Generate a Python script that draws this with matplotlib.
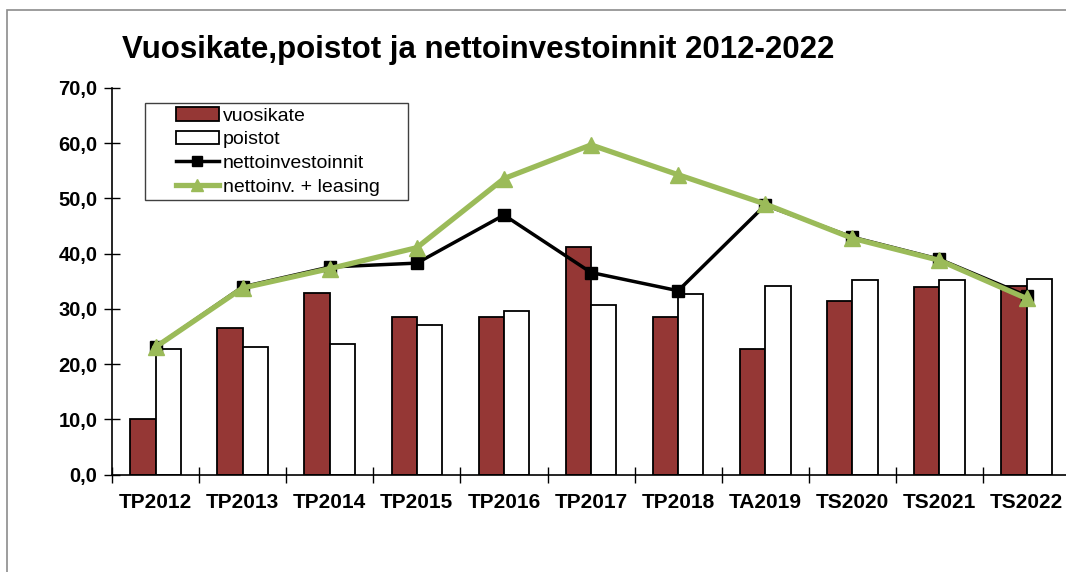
import matplotlib
matplotlib.use("Agg")
import matplotlib.pyplot as plt
import numpy as np
from matplotlib.patches import Rectangle
from matplotlib.ticker import FuncFormatter, MultipleLocator

categories = ["TP2012", "TP2013", "TP2014", "TP2015", "TP2016", "TP2017",
              "TP2018", "TA2019", "TS2020", "TS2021", "TS2022"]
vuosikate = [10.0, 26.5, 32.9, 28.6, 28.6, 41.2, 28.5, 22.7, 31.4, 34.0, 34.2]
poistot = [22.7, 23.2, 23.6, 27.1, 29.6, 30.7, 32.7, 34.2, 35.2, 35.2, 35.4]
nettoinvestoinnit = [23.1, 34.0, 37.6, 38.3, 47.0, 36.6, 33.3, 48.8, 43.0, 39.0, 32.4]
nettoinv_leasing = [23.1, 33.8, 37.3, 41.1, 53.6, 59.7, 54.3, 49.0, 42.8, 38.8, 31.9]

plt.rcParams['font.family'] = ['Liberation Sans', 'DejaVu Sans']

W, H = 1066, 572
fig = plt.figure(figsize=(W / 100, H / 100), dpi=100)
fig.patch.set_facecolor("white")

# outer chart border
fig.add_artist(Rectangle((7 / W, -0.1), 1.2, (H - 10) / H + 0.1, transform=fig.transFigure,
                         fill=False, edgecolor="#8c8c8c", linewidth=1.2))

ax_left = 112 / W
ax_bottom = (H - 474.7) / H
ax_h = (474.7 - 88.0) / H
ax_w = 11 * 87.1 / W
ax = fig.add_axes([ax_left, ax_bottom, ax_w, ax_h])

x = np.arange(len(categories))
bw = 0.29
b1 = ax.bar(x - bw / 2, vuosikate, width=bw, color="#953735", edgecolor="black",
            linewidth=1.3, label="vuosikate", zorder=2)
b2 = ax.bar(x + bw / 2, poistot, width=bw, color="white", edgecolor="black",
            linewidth=1.3, label="poistot", zorder=2)
l1, = ax.plot(x, nettoinvestoinnit, color="black", linewidth=2.5, marker="s",
              markersize=8, label="nettoinvestoinnit", zorder=3)
l2, = ax.plot(x, nettoinv_leasing, color="#9BBB59", linewidth=3.8, marker="^",
              markersize=11, label="nettoinv. + leasing", zorder=4)

ax.set_xlim(-0.5, 10.5)
ax.set_ylim(0, 70)
ax.yaxis.set_major_locator(MultipleLocator(10))
ax.yaxis.set_major_formatter(FuncFormatter(lambda v, p: f"{v:.1f}".replace(".", ",")))
ax.set_xticks(x)
ax.set_xticklabels(categories)
ax.set_xticks(np.arange(-0.5, 11, 1), minor=True)
ax.tick_params(axis="x", which="major", length=0, pad=13)
ax.tick_params(axis="x", which="minor", direction="inout", length=12, width=1)
ax.tick_params(axis="y", which="major", direction="inout", length=11, width=1, pad=5)
for lbl in ax.get_xticklabels():
    lbl.set_fontweight("bold")
    lbl.set_fontsize(15)
for lbl in ax.get_yticklabels():
    lbl.set_fontweight("bold")
    lbl.set_fontsize(14.5)

for s in ["top", "right"]:
    ax.spines[s].set_visible(False)
for s in ["left", "bottom"]:
    ax.spines[s].set_linewidth(1.2)

fig.text(122 / W, 1 - 50 / H, "Vuosikate,poistot ja nettoinvestoinnit 2012-2022",
         fontsize=22.5, fontweight="bold", va="center", ha="left")

# legend frame drawn separately (asymmetric padding in reference)
fig.add_artist(Rectangle((145 / W, 1 - 200 / H), (408 - 145) / W, (200 - 103) / H,
                         transform=fig.transFigure, fill=True, facecolor="white",
                         edgecolor="#404040", linewidth=1.0, zorder=5))
leg = fig.legend([b1, b2, l1, l2],
                 ["vuosikate", "poistot", "nettoinvestoinnit", "nettoinv. + leasing"],
                 loc="upper left", bbox_to_anchor=(176 / W, 1 - 107 / H),
                 bbox_transform=fig.transFigure, fontsize=14, frameon=False,
                 handlelength=2.2, handletextpad=0.2, labelspacing=0.32,
                 borderpad=0, borderaxespad=0, markerscale=0.85)
leg.set_zorder(6)

fig.savefig("out.png", dpi=100)
